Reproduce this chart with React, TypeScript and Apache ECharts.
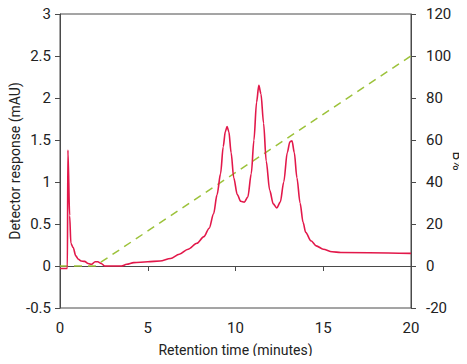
import React, { useEffect, useRef } from "react";
import * as echarts from "echarts";

const retentionTime = [
  0, 0.42, 0.45, 0.55, 0.62, 0.75, 0.9, 1.05, 1.2, 1.4, 1.6, 1.8, 2.0, 2.15, 2.35, 2.55, 3.5, 3.8, 4.2, 5,
  5.7, 6.3, 6.8, 7.3, 7.8, 8.2, 8.5, 8.75, 8.95, 9.15, 9.3, 9.42, 9.52, 9.62, 9.75, 9.9, 10.1, 10.3, 10.5,
  10.7, 10.9, 11.05, 11.2, 11.33, 11.45, 11.6, 11.75, 11.95, 12.15, 12.35, 12.55, 12.75, 12.95, 13.1, 13.22,
  13.35, 13.5, 13.68, 13.85, 14.0, 14.3, 14.6, 15.0, 15.5, 16, 20,
];
const detectorResponse = [
  -0.03, -0.03, 1.38, 0.6, 0.27, 0.22, 0.12, 0.08, 0.06, 0.055, 0.03, 0.02, 0.05, 0.05, 0.03, 0.0, 0.0, 0.02,
  0.04, 0.05, 0.06, 0.09, 0.14, 0.2, 0.27, 0.35, 0.45, 0.62, 0.85, 1.1, 1.42, 1.6, 1.66, 1.6, 1.35, 1.05, 0.85,
  0.77, 0.76, 0.82, 1.1, 1.5, 1.95, 2.15, 2.05, 1.7, 1.25, 0.9, 0.74, 0.69, 0.76, 1.0, 1.35, 1.48, 1.49, 1.35,
  1.05, 0.75, 0.52, 0.4, 0.3, 0.24, 0.2, 0.17, 0.16, 0.15,
];
const gradientTime = [0, 2, 20];
const gradientPercentB = [0, 0, 100];

const FONT = "Roboto, 'Noto Sans', sans-serif";
const AXIS_COLOR = "#4a4a4a";

export default function App() {
  const ref = useRef<HTMLDivElement>(null);
  useEffect(() => {
    if (!ref.current) return;
    const chart = echarts.init(ref.current, undefined, { renderer: "svg" });
    const axisCommon = {
      axisLine: { show: true, lineStyle: { color: AXIS_COLOR, width: 1 } },
      axisTick: { show: true, length: 5, lineStyle: { color: AXIS_COLOR } },
      splitLine: { show: false },
      axisLabel: { color: "#222", fontFamily: FONT, fontSize: 15 },
      nameTextStyle: { color: "#222", fontFamily: FONT, fontSize: 14 },
      nameMoveOverlap: false,
    };
    chart.setOption({
      animation: false,
      backgroundColor: "#fff",
      grid: {
        left: 60,
        right: 56,
        top: 14,
        bottom: 56,
        outerBoundsMode: "none",
        containLabel: false,
        show: true,
        borderColor: AXIS_COLOR,
        borderWidth: 1,
      },
      xAxis: {
        type: "value",
        min: 0,
        max: 20,
        interval: 5,
        name: "Retention time (minutes)",
        nameLocation: "middle",
        nameGap: 35,
        ...axisCommon,
        axisLabel: { ...axisCommon.axisLabel, margin: 12 },
      },
      yAxis: [
        {
          type: "value",
          min: -0.5,
          max: 3,
          interval: 0.5,
          name: "Detector response (mAU)",
          nameLocation: "middle",
          nameGap: 38,
          nameRotate: 90,
          ...axisCommon,
          axisLabel: { ...axisCommon.axisLabel, margin: 9 },
        },
        {
          type: "value",
          position: "right",
          min: -20,
          max: 120,
          interval: 20,
          name: "B%",
          nameLocation: "middle",
          nameGap: 40,
          nameRotate: -90,
          ...axisCommon,
          axisLabel: { ...axisCommon.axisLabel, margin: 15 },
        },
      ],
      series: [
        {
          type: "line",
          yAxisIndex: 1,
          data: gradientTime.map((t, i) => [t, gradientPercentB[i]]),
          showSymbol: false,
          lineStyle: { color: "#9cc23a", width: 1.5, type: [8, 6] },
          z: 2,
        },
        {
          type: "line",
          yAxisIndex: 0,
          data: retentionTime.map((t, i) => [t, detectorResponse[i]]),
          showSymbol: false,
          smooth: 0.3,
          smoothMonotone: "x",
          lineStyle: { color: "#e2184a", width: 1.6 },
          z: 3,
        },
      ],
    });
    return () => chart.dispose();
  }, []);
  return <div ref={ref} style={{ width: 467, height: 364, margin: -8 }} />;
}
